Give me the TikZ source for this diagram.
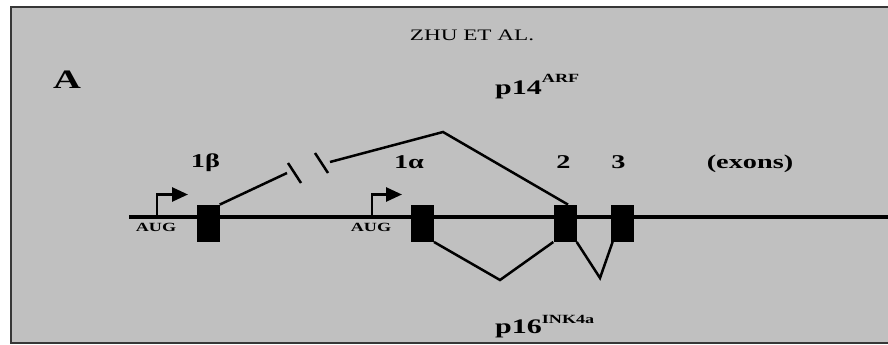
\documentclass[tikz,border=0pt]{standalone}
\usepackage{fontspec}
\usepackage{graphicx}
\setmainfont{Liberation Serif}[FakeStretch=1.45]
\usetikzlibrary{arrows.meta,calc}
\definecolor{panel}{RGB}{192,192,192}
\definecolor{framec}{RGB}{55,55,55}
\begin{document}
\begin{tikzpicture}[x=1pt,y=-1pt,
  exon/.style={draw=none,fill=black,minimum width=23pt,minimum height=37pt,inner sep=0pt},
  splice/.style={line width=2.5pt},
  lbl/.style={font=\fontsize{19.5}{22}\selectfont\bfseries,anchor=base,inner sep=0pt},
  aug/.style={font=\fontsize{12.5}{14}\selectfont\bfseries,anchor=base,inner sep=0pt},
  prom/.style={line width=2.7pt,-{Triangle[length=16pt,width=14pt]}}]
\useasboundingbox (0,0) rectangle (888,345);
\clip (0,0) rectangle (888,345);
\fill[white] (0,0) rectangle (888,345);
\draw[fill=panel,draw=framec,line width=2pt] (11,7) rectangle (895,343);
% gene line
\coordinate (gl) at (129,217);
\coordinate (gr) at (890,217);
\draw[line width=4pt] (gl) -- (gr);
% exons
\node[exon] (e1b) at (208,223.3) {};
\node[exon] (e1a) at (422.3,223.3) {};
\node[exon] (e2) at (565,223.3) {};
\node[exon] (e3) at (622.3,223.3) {};
% promoters
\coordinate (p1) at (157,215);
\coordinate (p1t) at (188,194.5);
\coordinate (p2) at (372,215);
\coordinate (p2t) at (402,194.5);
\draw[prom] (p1) |- (p1t);
\draw[prom] (p2) |- (p2t);
\node[aug] (aug1) at (156,231.7) {AUG};
\node[aug] (aug2) at (371,231.7) {AUG};
% exon labels
\node[lbl] (l1b) at (205.5,167.5) {1β};
\node[lbl] (l1a) at (409,168) {1α};
\node[lbl] (l2) at (563.5,168) {2};
\node[lbl] (l3) at (618.5,168) {3};
\node[lbl] (lex) at (750,168) {(exons)};
% p14ARF splicing
\coordinate (b1) at (287,173);
\coordinate (b2) at (330,162);
\coordinate (pk) at (443,132);
\coordinate (s1a) at (288,163);
\coordinate (s1b) at (301,183);
\coordinate (s2a) at (315,153);
\coordinate (s2b) at (328,173);
\draw[splice] (e1b.north east) -- (b1);
\draw[splice] (s1a) -- (s1b);
\draw[splice] (s2a) -- (s2b);
\draw[splice] (b2) -- (pk) -- ($(e2.north)+(3,0)$);
% p16INK4a splicing
\coordinate (v1) at (500,280);
\coordinate (v2) at (600,278);
\draw[splice] (e1a.south east) -- (v1) -- (e2.south west);
\draw[splice] (e2.south east) -- (v2) -- ($(e3.south west)+(2,0)$);
% texts
\node[font=\fontsize{16}{18}\selectfont,anchor=base,inner sep=0pt] (zhu) at (472,41) {ZHU ET AL.};
\node[font=\fontsize{26.6}{30}\selectfont\bfseries,anchor=base,inner sep=0pt] (A) at (67,88) {A};
\node[font=\fontsize{20.7}{24}\selectfont\bfseries,anchor=base west,inner sep=0pt] (p14) at (495,94) {p14\raisebox{11.7pt}{\fontsize{12.5}{14}\selectfont ARF}};
\node[font=\fontsize{20.7}{24}\selectfont\bfseries,anchor=base west,inner sep=0pt] (p16) at (495,333) {p16\raisebox{10pt}{\fontsize{12.5}{14}\selectfont INK4a}};
\end{tikzpicture}
\end{document}
